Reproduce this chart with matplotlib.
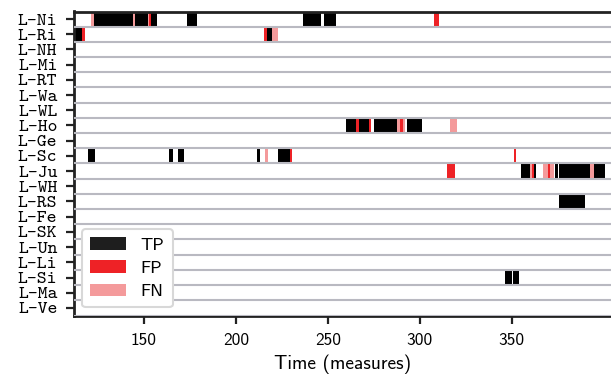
import os
import matplotlib
matplotlib.use("Agg")
import matplotlib.pyplot as plt
from matplotlib.font_manager import FontProperties
from matplotlib.patches import Patch

# ---- data ----
rows = ["L-Ni", "L-Ri", "L-NH", "L-Mi", "L-RT", "L-Wa", "L-WL", "L-Ho", "L-Ge", "L-Sc",
        "L-Ju", "L-WH", "L-RS", "L-Fe", "L-SK", "L-Un", "L-Li", "L-Si", "L-Ma", "L-Ve"]

event_row = (["L-Ni"] * 11 + ["L-Ri"] * 5 + ["L-Ho"] * 10 + ["L-Sc"] * 8
             + ["L-Ju"] * 12 + ["L-RS"] + ["L-Si"] * 2)
event_start = [121.5, 123.0, 144.0, 145.0, 152.0, 153.0, 154.0, 173.5, 236.5, 247.7, 308.0,
               112.0, 116.3, 215.5, 217.0, 219.8,
               260.0, 265.5, 267.0, 272.2, 275.3, 287.6, 289.0, 290.7, 293.0, 316.3,
               119.4, 163.4, 168.8, 211.7, 215.6, 222.8, 229.2, 351.0,
               315.0, 354.9, 360.0, 361.0, 362.2, 367.0, 370.0, 371.0, 373.5, 375.9, 392.5, 394.7,
               375.5,
               346.4, 350.9]
event_end = [123.0, 144.0, 145.0, 152.0, 153.0, 154.0, 157.0, 179.0, 246.3, 254.5, 310.5,
             116.3, 118.0, 217.0, 219.8, 222.8,
             265.5, 267.0, 272.2, 273.5, 287.6, 289.0, 290.7, 292.0, 301.2, 320.5,
             123.6, 165.9, 171.8, 212.9, 217.6, 229.2, 230.4, 352.4,
             319.3, 360.0, 361.0, 362.2, 363.3, 370.0, 371.0, 373.0, 375.3, 392.5, 394.7, 400.7,
             389.6,
             350.2, 354.0]
event_type = ["FN", "TP", "FN", "TP", "FN", "FP", "TP", "TP", "TP", "TP", "FP",
              "TP", "FP", "FP", "TP", "FN",
              "TP", "FP", "TP", "FP", "TP", "FN", "FP", "FN", "TP", "FN",
              "TP", "TP", "TP", "TP", "FN", "TP", "FP", "FP",
              "FP", "TP", "FN", "FP", "TP", "FN", "FP", "FN", "TP", "TP", "FN", "TP",
              "TP",
              "TP", "TP"]

type_labels = ["TP", "FP", "FN"]
type_colors = {"TP": "#000000", "FP": "#ee2226", "FN": "#f49a9b"}
legend_colors = {"TP": "#1e1e1e", "FP": "#ee2226", "FN": "#f49a9b"}
x_ticks = [150, 200, 250, 300, 350]
x_label = "Time (measures)"

# ---- fonts ----
fdir = os.path.join(matplotlib.get_data_path(), "fonts", "ttf")
tt = FontProperties(fname=os.path.join(fdir, "cmtt10.ttf"), size=13.5)
ss_tick = FontProperties(fname=os.path.join(fdir, "cmss10.ttf"), size=12.5)
ss_label = FontProperties(fname=os.path.join(fdir, "cmss10.ttf"), size=14)
ss_leg = FontProperties(fname=os.path.join(fdir, "cmss10.ttf"), size=13)

fig = plt.figure(figsize=(6.11, 3.78), dpi=100)
ax = fig.add_axes([74 / 611, 1 - 315.5 / 378, 1 - 74 / 611, (315.5 - 11.5) / 378])

ypos = {r: i for i, r in enumerate(rows)}
for r, s, e, t in zip(event_row, event_start, event_end, event_type):
    ax.barh(ypos[r], e - s, left=s, height=1.0, color=type_colors[t], linewidth=0, zorder=2)

for i in range(len(rows)):
    ax.axhline(i + 0.5, color="#b9b9c1", lw=1.5, zorder=3)

ax.set_ylim(len(rows) - 0.5, -0.5)
ax.set_xlim(112, 404)
ax.set_yticks(range(len(rows)))
ax.set_yticklabels(rows, fontproperties=tt)
ax.set_xticks(x_ticks)
ax.set_xticklabels([str(v) for v in x_ticks], fontproperties=ss_tick)
ax.set_xlabel(x_label, fontproperties=ss_label, labelpad=5)

for side in ["top", "left", "bottom"]:
    ax.spines[side].set_linewidth(2.0)
    ax.spines[side].set_color("#222222")
ax.spines["right"].set_visible(False)
ax.tick_params(axis="both", length=5.5, width=1.6, color="#222222")
ax.tick_params(axis="x", pad=7)
ax.tick_params(axis="y", pad=6.5)

handles = [Patch(facecolor=legend_colors[t], edgecolor="none", label=t) for t in type_labels]
leg = ax.legend(handles=handles, loc="lower left", prop=ss_leg, labelspacing=0.42,
                fancybox=True, framealpha=1.0, edgecolor="#d8d8d8", borderpad=0.45,
                borderaxespad=0.45)
leg.get_frame().set_linewidth(1.5)
leg.set_zorder(5)

fig.savefig("out.png", dpi=100)
